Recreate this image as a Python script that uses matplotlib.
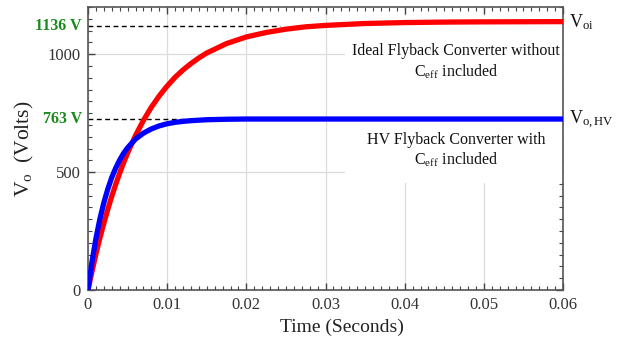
import matplotlib
matplotlib.use("Agg")
import matplotlib.pyplot as plt
from matplotlib.ticker import MultipleLocator
from matplotlib.patches import Rectangle

plt.rcParams['font.family'] = ['Liberation Serif', 'DejaVu Serif']
plt.rcParams['mathtext.fontset'] = 'custom'
plt.rcParams['mathtext.rm'] = 'Liberation Serif'
plt.rcParams['mathtext.it'] = 'Liberation Serif:italic'

# ---- data ----
t_red = [0, 0.0005, 0.001, 0.0015, 0.002, 0.0025, 0.003, 0.0035, 0.004, 0.0045,
         0.005, 0.006, 0.007, 0.008, 0.009, 0.010, 0.011, 0.012, 0.013, 0.014,
         0.015, 0.0175, 0.020, 0.0225, 0.025, 0.0275, 0.030, 0.035, 0.040,
         0.045, 0.050, 0.060]
v_red = [0, 78, 152, 220, 283, 342, 397, 448, 495, 540,
         581, 655, 719, 775, 823, 865, 902, 933, 960, 984,
         1005, 1045, 1073, 1092, 1106, 1116, 1122, 1130, 1134,
         1136, 1137, 1138]

t_blue = [0, 0.0005, 0.001, 0.0015, 0.002, 0.0025, 0.003, 0.0035, 0.004, 0.0045,
          0.005, 0.006, 0.007, 0.008, 0.009, 0.010, 0.011, 0.012, 0.013, 0.014,
          0.015, 0.0175, 0.020, 0.030, 0.040, 0.050, 0.060]
v_blue = [0, 119, 218, 301, 370, 428, 477, 517, 551, 580,
          603, 640, 665, 683, 696, 705, 711, 715, 718, 720,
          722, 724, 725, 725, 725, 725, 725]

ref_levels = [1118, 725]
ref_labels = ['1136 V', '763 V']
ref_ends = [0.0243, 0.0146]

yticks = [0, 500, 1000]
xticks = [0, 0.01, 0.02, 0.03, 0.04, 0.05, 0.06]
xticklabels = ['0', '0.01', '0.02', '0.03', '0.04', '0.05', '0.06']

fig = plt.figure(figsize=(6.2, 3.42), dpi=100)
ax = fig.add_axes([88/620, 1 - 290/342, 475/620, 283/342])

ax.set_xlim(0, 0.06)
ax.set_ylim(0, 1200)
ax.set_axisbelow(True)
ax.grid(True, color='#dcdcdc', linewidth=0.9)

# white panel behind annotations (hides grid)
ax.add_patch(Rectangle((0.0325, 455), 0.06 - 0.0325, 1160 - 455,
                       facecolor='white', edgecolor='none', zorder=1.5))

ax.plot(t_red, v_red, color='#ff0000', lw=3.8, zorder=3, solid_capstyle='butt')
ax.plot(t_blue, v_blue, color='#0000ff', lw=3.8, zorder=4, solid_capstyle='butt')

for lev, lab, end in zip(ref_levels, ref_labels, ref_ends):
    ax.plot([0, end], [lev, lev], color='black', lw=1.0, ls=(0, (3.5, 2.5)), zorder=2.5)
    ax.text(-0.013, lev, lab, transform=ax.get_yaxis_transform(), ha='right',
            va='center', color='#1a8a1a', fontsize=11.5, fontweight='bold')

ax.set_xticks(xticks)
ax.set_xticklabels(xticklabels)
ax.set_yticks(yticks)
ax.xaxis.set_minor_locator(MultipleLocator(0.001))
ax.yaxis.set_minor_locator(MultipleLocator(50))
ax.tick_params(which='both', direction='in', top=True, right=True,
               colors='#444444', labelcolor='#333333', labelsize=12)
ax.tick_params(which='major', length=5, width=1.0, pad=5)
ax.tick_params(which='minor', length=3, width=0.8)
for s in ax.spines.values():
    s.set_color('#555555')
    s.set_linewidth(1.2)

ax.set_xlabel('Time (Seconds)', fontsize=14, color='#222222')
ax.xaxis.set_label_coords((342 - 88) / 475, -0.1)
ax.set_ylabel(r'$\mathrm{V_o}$  (Volts)', fontsize=15.5, color='#222222')
ax.yaxis.set_label_coords(-0.11, 0.5)

# annotations
xc = 0.0465
ax.text(xc, 996, 'Ideal Flyback Converter without', ha='center', va='baseline',
        fontsize=11.5, color='#111111', zorder=5)
ax.text(xc, 903, r'$\mathrm{C_{eff}}$ included', ha='center', va='baseline',
        fontsize=11.5, color='#111111', zorder=5)
ax.text(xc, 619, 'HV Flyback Converter with', ha='center', va='baseline',
        fontsize=11.5, color='#111111', zorder=5)
ax.text(xc, 530, r'$\mathrm{C_{eff}}$ included', ha='center', va='baseline',
        fontsize=11.5, color='#111111', zorder=5)

ax.text(0.0608, 1114, r'$\mathrm{V_{oi}}$', ha='left', va='baseline',
        fontsize=13, color='#111111', clip_on=False)
ax.text(0.0608, 703, r'$\mathrm{V_{o,HV}}$', ha='left', va='baseline',
        fontsize=13, color='#111111', clip_on=False)

fig.savefig('out.png', dpi=100)
